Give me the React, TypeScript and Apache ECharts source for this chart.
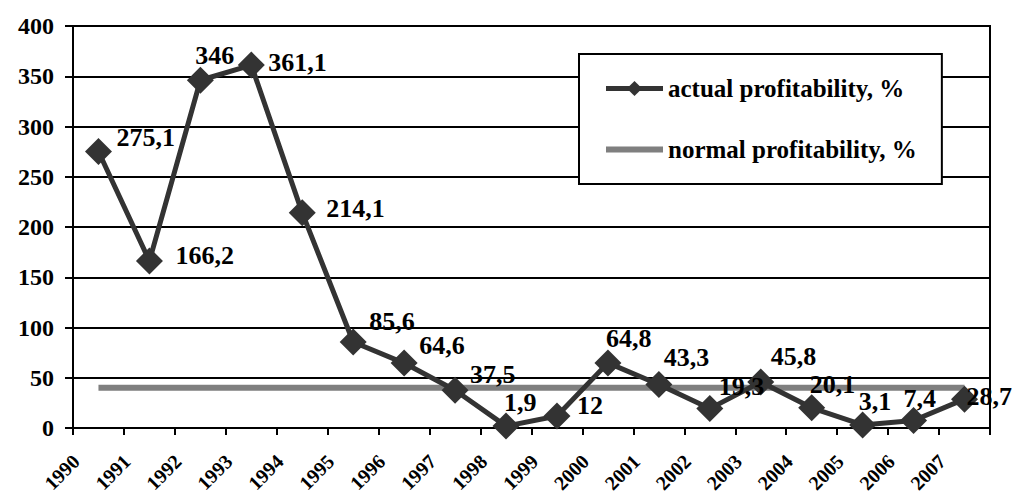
import React, { useEffect, useRef } from "react";
import * as echarts from "echarts";

const years = ["1990", "1991", "1992", "1993", "1994", "1995", "1996", "1997", "1998", "1999", "2000", "2001", "2002", "2003", "2004", "2005", "2006", "2007"];
const actualProfitability = [275.1, 166.2, 346, 361.1, 214.1, 85.6, 64.6, 37.5, 1.9, 12, 64.8, 43.3, 19.3, 45.8, 20.1, 3.1, 7.4, 28.7];
const normalProfitability = [40, 40, 40, 40, 40, 40, 40, 40, 40, 40, 40, 40, 40, 40, 40, 40, 40, 40];
const seriesNames = ["actual profitability, %", "normal profitability, %"];
const yTicks = { min: 0, max: 400, interval: 50 };

// label placement (style only): [dx to left edge, dy to middle] from the marker centre
const labelOffsets: [number, number][] = [
  [18, -14], [26, -5], [-5, -25], [17, -3], [24, -4], [16, -20], [15, -18], [15, -16], [-2, -24],
  [20, -10], [-2, -24], [5, -27], [9, -22], [10, -25], [-2, -23], [-4, -23], [-10, -22], [2, -3],
];

const FONT = "'Liberation Serif', 'Times New Roman', serif";
const DARK = "#333333";
const GREY = "#7f7f7f";
// the chart canvas is taller than the 493px window so the rotated year labels can reach the bottom edge
const CANVAS_H = 530;

export default function App() {
  const ref = useRef<HTMLDivElement>(null);
  useEffect(() => {
    if (!ref.current) return;
    const chart = echarts.init(ref.current, null, { renderer: "svg" });
    const fmt = (v: number) => String(v).replace(".", ",");
    const gridBottom = CANVAS_H - 428;
    chart.setOption({
      animation: false,
      backgroundColor: "#fff",
      textStyle: { fontFamily: FONT, color: "#000" },
      grid: [
        { left: 73, right: 30, top: 26, bottom: gridBottom, outerBoundsMode: "none", containLabel: false, show: true, borderColor: "#000", borderWidth: 2, backgroundColor: "transparent" },
        { left: 76, right: 27, top: 26, bottom: gridBottom, outerBoundsMode: "none", containLabel: false },
      ],
      legend: {
        data: [
          { name: seriesNames[0], lineStyle: { width: 5, color: DARK } },
          { name: seriesNames[1], lineStyle: { width: 6, color: GREY }, itemStyle: { opacity: 0 } },
        ],
        orient: "vertical",
        left: 579,
        top: 54,
        padding: [22, 25, 22, 24],
        itemGap: 36,
        itemWidth: 57,
        itemHeight: 19,
        itemTextGap: 7,
        backgroundColor: "#fff",
        borderColor: "#000",
        borderWidth: 2,
        textStyle: { fontFamily: FONT, fontWeight: "bold", fontSize: 25, color: "#000" },
      },
      xAxis: [
        {
          type: "category",
          gridIndex: 0,
          data: years,
          boundaryGap: true,
          axisLine: { lineStyle: { color: "#000", width: 2 } },
          axisTick: { show: true, length: 7, lineStyle: { color: "#000", width: 2 } },
          axisLabel: { show: false },
        },
        {
          type: "category",
          gridIndex: 1,
          data: [...years, ""],
          boundaryGap: false,
          axisLine: { show: false },
          axisTick: { show: false },
          axisLabel: {
            rotate: 45,
            margin: 30,
            interval: 0,
            hideOverlap: false,
            fontFamily: FONT,
            fontWeight: "bold",
            fontSize: 20,
            color: "#000",
          },
        },
      ],
      yAxis: [
        {
          type: "value",
          gridIndex: 0,
          min: yTicks.min,
          max: yTicks.max,
          interval: yTicks.interval,
          axisLine: { show: true, lineStyle: { color: "#000", width: 2 } },
          axisTick: { show: true, length: 8, lineStyle: { color: "#000", width: 2 } },
          splitLine: { show: true, lineStyle: { color: "#000", width: 2 } },
          axisLabel: { margin: 19, fontFamily: FONT, fontWeight: "bold", fontSize: 24, color: "#000" },
        },
        {
          type: "value",
          gridIndex: 1,
          min: yTicks.min,
          max: yTicks.max,
          show: false,
        },
      ],
      series: [
        {
          name: seriesNames[1],
          type: "line",
          xAxisIndex: 0,
          yAxisIndex: 0,
          data: normalProfitability,
          symbol: "none",
          lineStyle: { color: GREY, width: 6 },
          itemStyle: { color: GREY },
          z: 2,
        },
        {
          name: seriesNames[0],
          type: "line",
          xAxisIndex: 0,
          yAxisIndex: 0,
          data: actualProfitability.map((v, i) => ({
            value: v,
            label: { offset: labelOffsets[i] },
          })),
          symbol: "diamond",
          symbolSize: 27,
          lineStyle: { color: DARK, width: 5 },
          itemStyle: { color: DARK },
          label: {
            show: true,
            position: "inside",
            align: "left",
            verticalAlign: "middle",
            formatter: (p: any) => fmt(p.value),
            fontFamily: FONT,
            fontWeight: "bold",
            fontSize: 26,
            color: "#000",
          },
          z: 3,
        },
      ],
    });
    return () => chart.dispose();
  }, []);
  return <div ref={ref} style={{ position: "fixed", left: 0, top: 0, width: 1020, height: CANVAS_H }} />;
}
